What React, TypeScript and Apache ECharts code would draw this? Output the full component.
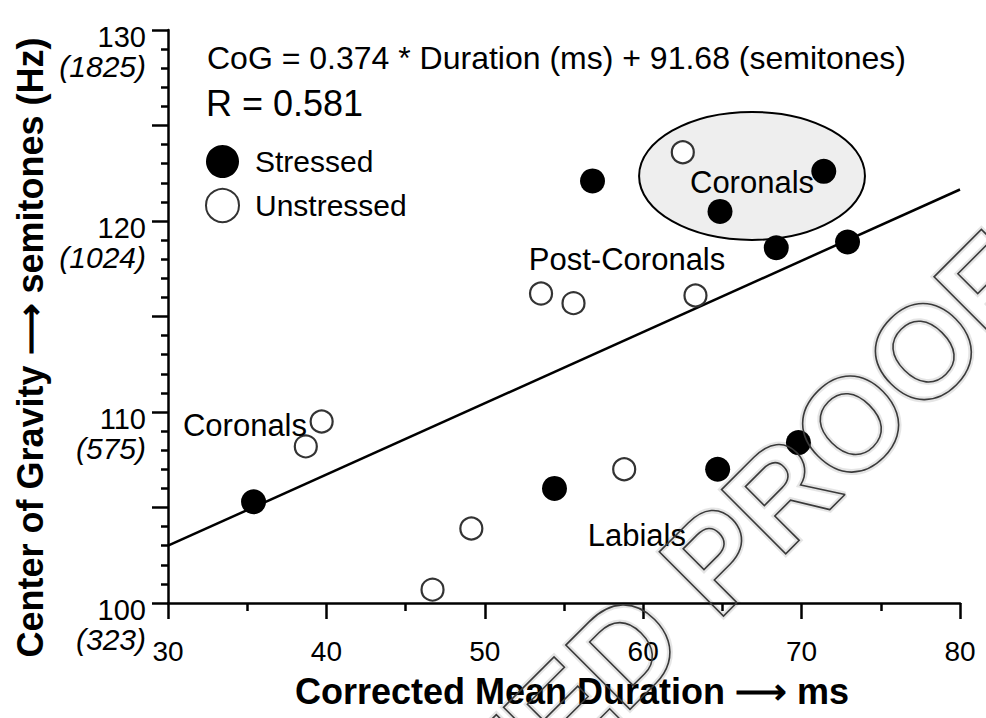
import React, { useEffect, useRef } from "react";
import * as echarts from "echarts";

const FONT = '"Liberation Sans", Arial, Helvetica, sans-serif';

// Stressed (filled) points: [duration ms, CoG semitones]
const stressed: number[][] = [
  [35.4, 105.3], [54.4, 106.0], [64.7, 107.0], [69.8, 108.4],
  [56.8, 122.1], [64.85, 120.5], [71.4, 122.6], [68.4, 118.6], [72.9, 118.9],
];
// Unstressed (open) points
const unstressed: number[][] = [
  [39.7, 109.5], [38.7, 108.2], [49.15, 103.9], [46.7, 100.7], [58.8, 107.0],
  [62.5, 123.6], [53.55, 116.2], [55.6, 115.7], [63.3, 116.1],
];
// Regression line endpoints
const regression: number[][] = [[30, 103.0], [80, 121.65]];

// Y tick labels with Hz equivalents
const yLabelValues = [100, 110, 120, 130];
const yLabelHz = ["323", "575", "1024", "1825"];

// Annotations (text, x, y)
const annotationNames = ["Coronals", "Post-Coronals", "Coronals", "Labials"];
const annotationPos: number[][] = [[66.87, 122.0], [58.98, 117.96], [34.86, 109.27], [59.6, 103.56]];

// Highlight ellipse: [cx, cy, rx, ry] in data units
const ellipseData: number[][] = [[66.87, 122.36, 7.13, 3.35]];

const equationText = "CoG = 0.374 * Duration (ms) + 91.68 (semitones)";
const rText = "R = 0.581";

export default function App() {
  const ref = useRef<HTMLDivElement>(null);
  useEffect(() => {
    document.body.style.margin = "0";
    if (!ref.current) return;
    const chart = echarts.init(ref.current, null, { renderer: "svg" });
    const wmBase = {
      font: `bold 132px ${FONT}`,
      fill: "rgba(0,0,0,0)",
      verticalAlign: "middle",
    };
    const haloStyle = { ...wmBase, stroke: "rgba(0,0,0,0.10)", lineWidth: 6 };
    const lineStyleWm = { ...wmBase, stroke: "#3a3a3a", lineWidth: 1.6 };
    const wmParts = [
      { text: "CORRECTED", x: 659, y: 616, align: "right" },
      { text: "PROOF", x: 685, y: 590, align: "left" },
    ];
    const watermark: any[] = [];
    wmParts.forEach((p) => {
      watermark.push({
        type: "text", x: p.x, y: p.y, rotation: Math.PI / 4, z: 9, silent: true,
        style: { ...haloStyle, text: p.text, align: p.align },
      });
      watermark.push({
        type: "text", x: p.x, y: p.y, rotation: Math.PI / 4, z: 10, silent: true,
        style: { ...lineStyleWm, text: p.text, align: p.align },
      });
    });
    const option: any = {
      animation: false,
      backgroundColor: "#ffffff",
      textStyle: { fontFamily: FONT },
      grid: { left: 168, right: 26, top: 30, bottom: 115, containLabel: false },
      legend: {
        data: ["Stressed", "Unstressed"],
        orient: "vertical",
        left: 200,
        top: 140,
        itemWidth: 33,
        itemHeight: 33,
        itemGap: 10,
        selectedMode: false,
        textStyle: { fontSize: 30, color: "#000", fontFamily: FONT, padding: [0, 0, 0, 11] },
      },
      xAxis: {
        type: "value",
        min: 30,
        max: 80,
        interval: 10,
        name: "Corrected Mean Duration ⟶ ms",
        nameLocation: "middle",
        nameGap: 70,
        nameTextStyle: { fontSize: 36, fontWeight: "bold", color: "#000", fontFamily: FONT, padding: [0, 0, 0, 16] },
        axisLine: { lineStyle: { color: "#000", width: 2.5 } },
        axisTick: { length: 16, lineStyle: { color: "#000", width: 2.5 } },
        minorTick: { show: true, splitNumber: 2, length: 8, lineStyle: { color: "#000", width: 2.5 } },
        splitLine: { show: false },
        minorSplitLine: { show: false },
        axisLabel: { fontSize: 28, color: "#000", margin: 34, fontFamily: FONT },
      },
      yAxis: {
        type: "value",
        min: 100,
        max: 130,
        interval: 5,
        name: "Center of Gravity ⟶ semitones (Hz)",
        nameLocation: "middle",
        nameRotate: 90,
        nameGap: 116,
        nameTextStyle: { fontSize: 36, fontWeight: "bold", color: "#000", fontFamily: FONT, padding: [0, 62, 0, 0] },
        axisLine: { lineStyle: { color: "#000", width: 2.5 } },
        axisTick: { length: 16, lineStyle: { color: "#000", width: 2.5 } },
        minorTick: { show: true, splitNumber: 5, length: 7, lineStyle: { color: "#000", width: 2.5 } },
        splitLine: { show: false },
        minorSplitLine: { show: false },
        axisLabel: {
          margin: 22,
          color: "#000",
          fontFamily: FONT,
          padding: [44, 0, 0, 0],
          formatter: (v: number) => {
            const i = yLabelValues.indexOf(v);
            if (i < 0) return "";
            return `{a|${v}}\n{b|(${yLabelHz[i]})}`;
          },
          rich: {
            a: { fontSize: 29, lineHeight: 29, color: "#000", fontFamily: FONT, align: "right" },
            b: { fontSize: 30, lineHeight: 30, fontStyle: "italic", color: "#000", fontFamily: FONT, align: "right" },
          },
        },
      },
      series: [
        {
          type: "custom",
          name: "ellipse",
          z: 1,
          silent: true,
          encode: { x: 0, y: 1 },
          data: ellipseData,
          renderItem: (params: any, api: any) => {
            const c = api.coord([api.value(0), api.value(1)]);
            const s = api.size([api.value(2), api.value(3)]);
            return {
              type: "ellipse",
              shape: { cx: c[0], cy: c[1], rx: s[0], ry: s[1] },
              style: { fill: "#eeeeee", stroke: "#000", lineWidth: 2 },
            };
          },
        },
        {
          type: "line",
          name: "regression",
          z: 2,
          silent: true,
          symbol: "none",
          data: regression,
          lineStyle: { color: "#000", width: 2.5 },
        },
        {
          type: "scatter",
          name: "Stressed",
          z: 3,
          symbol: "circle",
          symbolSize: 25,
          data: stressed,
          itemStyle: { color: "#000", opacity: 1 },
        },
        {
          type: "scatter",
          name: "Unstressed",
          z: 3,
          symbol: "circle",
          symbolSize: 22,
          data: unstressed,
          itemStyle: { color: "#ffffff", borderColor: "#333", borderWidth: 2.2, opacity: 1 },
        },
        {
          type: "scatter",
          name: "annotations",
          z: 4,
          silent: true,
          symbolSize: 0,
          itemStyle: { color: "#000", opacity: 1 },
          data: annotationNames.map((n, i) => ({ name: n, value: annotationPos[i] })),
          label: {
            show: true,
            position: "inside",
            formatter: "{b}",
            fontSize: 31,
            color: "#000",
            opacity: 1,
            textBorderWidth: 0,
            textBorderColor: "transparent",
            fontFamily: FONT,
          },
        },
      ],
      graphic: [
        {
          type: "text",
          x: 207,
          y: 58,
          style: { text: equationText, font: `32px ${FONT}`, fill: "#000", align: "left", verticalAlign: "middle" },
        },
        {
          type: "text",
          x: 206,
          y: 103,
          style: { text: rText, font: `36px ${FONT}`, fill: "#000", align: "left", verticalAlign: "middle" },
        },
        ...watermark,
      ],
    };
    chart.setOption(option);
    return () => chart.dispose();
  }, []);
  return <div ref={ref} style={{ width: 986, height: 718 }} />;
}
